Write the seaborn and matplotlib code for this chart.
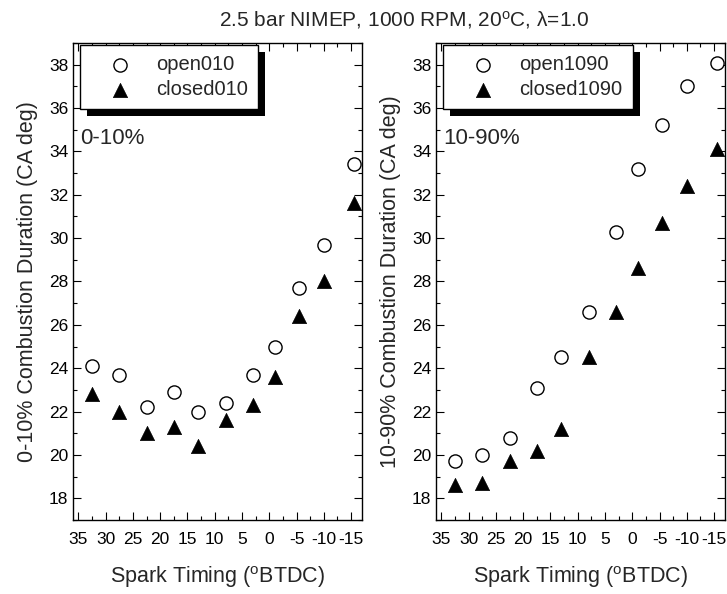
import pandas as pd
import numpy as np
import matplotlib
matplotlib.use("Agg")
import matplotlib.pyplot as plt
import matplotlib.patheffects as pe
from matplotlib.ticker import MultipleLocator
import seaborn as sns

# Spark timing (deg BTDC), same sweep for both panels
spark = [32.5, 27.5, 22.5, 17.5, 13, 8, 3, -1, -5.5, -10, -15.5]

# 0-10% burn duration (CA deg)
open010 = [24.1, 23.7, 22.2, 22.9, 22.0, 22.4, 23.7, 25.0, 27.7, 29.7, 33.4]
closed010 = [22.8, 22.0, 21.0, 21.3, 20.4, 21.6, 22.3, 23.6, 26.4, 28.0, 31.6]

# 10-90% burn duration (CA deg)
open1090 = [19.7, 20.0, 20.8, 23.1, 24.5, 26.6, 30.3, 33.2, 35.2, 37.0, 38.1]
closed1090 = [18.6, 18.7, 19.7, 20.2, 21.2, 24.5, 26.6, 28.6, 30.7, 32.4, 34.1]

x_ticks = [35, 30, 25, 20, 15, 10, 5, 0, -5, -10, -15]
y_ticks = [18, 20, 22, 24, 26, 28, 30, 32, 34, 36, 38]

sns.set_style("ticks")
plt.rcParams["font.family"] = ["Liberation Sans", "DejaVu Sans"]
plt.rcParams["axes.unicode_minus"] = False
plt.rcParams["mathtext.fontset"] = "custom"
plt.rcParams["mathtext.rm"] = "Liberation Sans"
plt.rcParams["mathtext.it"] = "Liberation Sans:italic"

fig = plt.figure(figsize=(7.27, 5.94), dpi=100)
ax1 = fig.add_axes([0.1004, 0.1246, 0.3975, 0.803])
ax2 = fig.add_axes([0.5997, 0.1246, 0.3975, 0.803])

panels = [
    (ax1, open010, closed010, "open010", "closed010", "0-10%",
     "0-10% Combustion Duration (CA deg)"),
    (ax2, open1090, closed1090, "open1090", "closed1090", "10-90%",
     "10-90% Combustion Duration (CA deg)"),
]

for ax, op, cl, lab_o, lab_c, tag, ylab in panels:
    df = pd.DataFrame({"spark": spark, "open": op, "closed": cl})
    sns.scatterplot(data=df, x="spark", y="open", ax=ax, marker="o", s=90,
                    facecolor="white", edgecolor="black", linewidth=1.0,
                    label=lab_o, zorder=3)
    sns.scatterplot(data=df, x="spark", y="closed", ax=ax, marker="^", s=105,
                    color="black", edgecolor="black", linewidth=0.5,
                    label=lab_c, zorder=3)

    ax.set_xlim(36, -17)
    ax.set_ylim(17, 39)
    ax.set_xticks(x_ticks)
    ax.set_xticklabels([str(t) for t in x_ticks])
    ax.set_yticks(y_ticks)
    ax.xaxis.set_minor_locator(MultipleLocator(2.5))
    ax.yaxis.set_minor_locator(MultipleLocator(1))
    ax.tick_params(which="both", direction="in", top=True, right=True,
                   labelsize=12.5, colors="black", width=0.8)
    ax.tick_params(which="major", length=6)
    ax.tick_params(which="minor", length=3)
    ax.tick_params(axis="x", pad=9)
    for sp in ax.spines.values():
        sp.set_visible(True)
        sp.set_color("black")
        sp.set_linewidth(1.0)

    ax.set_xlabel("Spark Timing ($^{\\rm o}$BTDC)", fontsize=15.5, labelpad=12)
    ax.set_ylabel(ylab, fontsize=15.5, labelpad=8)

    ax.text(0.024, 0.80, tag, transform=ax.transAxes, fontsize=16,
            ha="left", va="center")

    leg = ax.legend(loc="upper left", bbox_to_anchor=(0.024, 0.996),
                    borderaxespad=0, fancybox=False, edgecolor="black",
                    framealpha=1, fontsize=14.5, handletextpad=0.3,
                    borderpad=0.5, labelspacing=0.3, handlelength=3.0,
                    scatterpoints=1)
    frame = leg.get_frame()
    frame.set_linewidth(1.0)
    frame.set_path_effects([
        pe.SimplePatchShadow(offset=(5, -5), shadow_rgbFace="black", alpha=1),
        pe.Normal(),
    ])

fig.suptitle("2.5 bar NIMEP, 1000 RPM, 20$^{\\rm o}$C, λ=1.0",
             x=0.556, y=0.985, fontsize=15)

fig.savefig("out.png", dpi=100)
